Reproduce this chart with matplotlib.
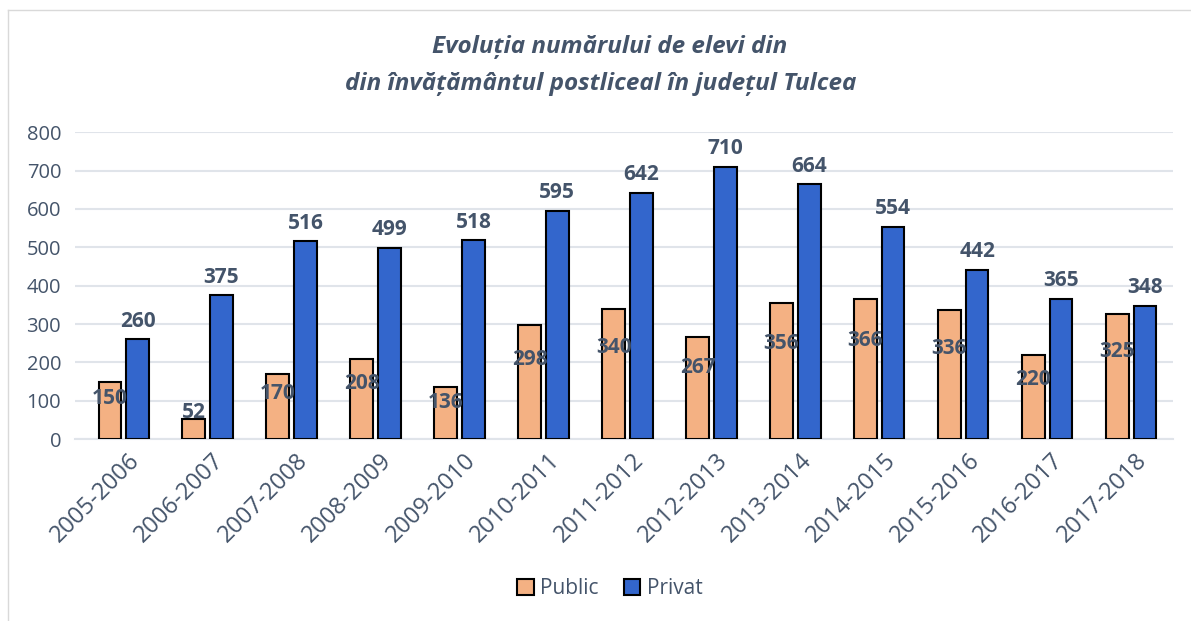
import numpy as np
import matplotlib.pyplot as plt
from matplotlib.lines import Line2D

plt.rcParams['font.family'] = ['Open Sans', 'DejaVu Sans']

years = ["2005-2006", "2006-2007", "2007-2008", "2008-2009", "2009-2010",
         "2010-2011", "2011-2012", "2012-2013", "2013-2014", "2014-2015",
         "2015-2016", "2016-2017", "2017-2018"]
public = [150, 52, 170, 208, 136, 298, 340, 267, 356, 366, 336, 220, 325]
privat = [260, 375, 516, 499, 518, 595, 642, 710, 664, 554, 442, 365, 348]

text_col = '#44546A'
grid_col = '#E0E4EA'

fig = plt.figure(figsize=(11.91, 6.21), dpi=100)
ax = fig.add_axes([0.063, 0.293, 0.922, 0.494])

x = np.arange(len(years))
w = 0.27
off = 0.165
ax.bar(x - off, public, w, color='#F4B183', edgecolor='black', linewidth=1.5, label='Public', zorder=3)
ax.bar(x + off, privat, w, color='#3366CC', edgecolor='black', linewidth=1.5, label='Privat', zorder=3)

for i in range(len(years)):
    ax.text(x[i] + off, privat[i] + 20, str(privat[i]), ha='center', va='bottom',
            fontsize=15, fontweight='bold', color=text_col, zorder=4)
    y = max(public[i] * 0.7, 70)
    ax.text(x[i] - off, y, str(public[i]), ha='center', va='center',
            fontsize=15, fontweight='bold', color=text_col, zorder=4)

ax.set_ylim(0, 800)
ax.set_xlim(-0.58, 12.5)
ax.set_yticks(range(0, 801, 100))
ax.yaxis.grid(True, color=grid_col, linewidth=1.5, zorder=0)
ax.set_xticks(x + 0.05)
ax.set_xticklabels(years, rotation=45, ha='right', rotation_mode='anchor')
ax.tick_params(axis='x', length=0, labelsize=17, labelcolor=text_col, pad=7)
ax.tick_params(axis='y', length=0, labelsize=14.5, labelcolor=text_col, pad=10)
for s in ['top', 'right', 'left']:
    ax.spines[s].set_visible(False)
ax.spines['bottom'].set_color(grid_col)
ax.spines['bottom'].set_linewidth(1.5)

fig.text(0.512, 0.925, "Evoluția numărului de elevi din", ha='center', va='center',
         fontsize=17.5, fontweight='bold', style='italic', color=text_col)
fig.text(0.504, 0.865, "din învățământul postliceal în județul Tulcea", ha='center', va='center',
         fontsize=17.5, fontweight='bold', style='italic', color=text_col)

fig.legend(loc='center', bbox_to_anchor=(0.512, 0.052), ncol=2, frameon=False,
           fontsize=15, labelcolor=text_col, handlelength=0.8, handleheight=0.8,
           handletextpad=0.3, columnspacing=1.2)

# chart frame (top and left)
fig.add_artist(Line2D([0.007, 1.0], [0.984, 0.984], color='#D9D9D9', linewidth=1))
fig.add_artist(Line2D([0.007, 0.007], [0.0, 0.984], color='#D9D9D9', linewidth=1))

fig.savefig('out.png', dpi=100)
